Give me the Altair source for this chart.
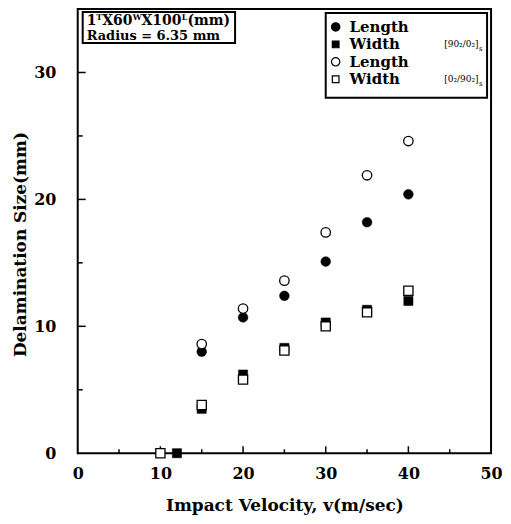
import altair as alt
import pandas as pd

# ---- data ----
v_len_90 = [15, 20, 25, 30, 35, 40]
len_90 = [8.0, 10.7, 12.4, 15.1, 18.2, 20.4]
v_wid_90 = [12, 15, 20, 25, 30, 35, 40]
wid_90 = [0.0, 3.5, 6.2, 8.3, 10.3, 11.3, 12.0]
v_len_0 = [15, 20, 25, 30, 35, 40]
len_0 = [8.6, 11.4, 13.6, 17.4, 21.9, 24.6]
v_wid_0 = [10, 15, 20, 25, 30, 35, 40]
wid_0 = [0.0, 3.8, 5.8, 8.1, 10.0, 11.1, 12.8]

x_ticks_major = [10, 20, 30, 40]
x_ticks_minor = [5, 15, 25, 35, 45]
y_ticks_major = [10, 20, 30]
y_ticks_minor = [5, 15, 25]
x_labels = [0, 10, 20, 30, 40, 50]
y_labels = [0, 10, 20, 30]

FONT = "DejaVu Serif"
W, H = 415, 446

xs = alt.Scale(domain=[0, 50], nice=False, zero=False)
ys = alt.Scale(domain=[0, 35], nice=False, zero=False)

XAX = alt.Axis(values=x_labels, ticks=False, domain=False, grid=False,
               labelPadding=12, titlePadding=16, labelFlush=False)
YAX = alt.Axis(values=y_labels, ticks=False, domain=False, grid=False,
               labelPadding=22, titlePadding=4, titleY=236)
XT = "Impact Velocity, v(m/sec)"
YT = "Delamination Size(mm)"


def X(field="v"):
    return alt.X(f"{field}:Q", scale=xs, axis=XAX, title=XT)


def Y(field="d"):
    return alt.Y(f"{field}:Q", scale=ys, axis=YAX, title=YT)


def df(xv, yv):
    return pd.DataFrame({"v": xv, "d": yv})


def xtick(vals, length):
    return alt.Chart(pd.DataFrame({"v": vals})).mark_rule(color="black", strokeWidth=1.5).encode(
        x=X(), y=alt.value(H), y2=alt.value(H - length))


def ytick(vals, length):
    return alt.Chart(pd.DataFrame({"d": vals})).mark_rule(color="black", strokeWidth=1.5).encode(
        y=Y(), x=alt.value(0), x2=alt.value(length))


def pts(xv, yv, shape, filled, size):
    mk = alt.Chart(df(xv, yv)).mark_point(
        shape=shape, filled=True, size=size,
        fill="black" if filled else "white",
        stroke="black", strokeWidth=1.3 if not filled else 0.5, opacity=1)
    return mk.encode(x=X(), y=Y())


series = [
    pts(v_len_90, len_90, "circle", True, 95),
    pts(v_len_0, len_0, "circle", False, 90),
    pts(v_wid_90, wid_90, "square", True, 85),
    pts(v_wid_0, wid_0, "square", False, 85),
]

one = pd.DataFrame({"a": [0]})


def box(x1, x2, y1, y2):
    return alt.Chart(one).mark_rect(fill="white", stroke="black", strokeWidth=2).encode(
        x=alt.value(x1), x2=alt.value(x2), y=alt.value(y1), y2=alt.value(y2))


def txt(s, x, y, size, weight="bold", align="left", baseline="middle"):
    return alt.Chart(one).mark_text(text=s, font=FONT, fontSize=size, fontWeight=weight,
                                    align=align, baseline=baseline, color="black").encode(
        x=alt.value(x), y=alt.value(y))


def legpt(shape, filled, x, y, size):
    return alt.Chart(one).mark_point(shape=shape, filled=True, size=size,
                                     fill="black" if filled else "white",
                                     stroke="black", strokeWidth=1.2, opacity=1).encode(
        x=alt.value(x), y=alt.value(y))


# dimensions label "1^T X 60^W X 100^L (mm)" built from pieces
L1 = 16  # baseline of line 1
annot = [
    box(5, 158, 3, 34),
    txt("1", 9, L1, 14, baseline="alphabetic"),
    txt("T", 18.7, L1 - 5, 8, baseline="alphabetic"),
    txt("X60", 24.6, L1, 14, baseline="alphabetic"),
    txt("W", 55.3, L1 - 5, 8, baseline="alphabetic"),
    txt("X100", 64.1, L1, 14, baseline="alphabetic"),
    txt("L", 104.5, L1 - 5, 8, baseline="alphabetic"),
    txt("(mm)", 110.2, L1, 14, baseline="alphabetic"),
    txt("Radius = 6.35 mm", 9, 27, 13),
]

R = [18, 35.5, 53, 70.5]
legend = [
    box(249, 411, 4, 89),
    legpt("circle", True, 259, R[0], 70),
    legpt("square", True, 259, R[1], 45),
    legpt("circle", False, 259, R[2], 70),
    legpt("square", False, 259, R[3], 45),
    txt("Length", 273, R[0], 15),
    txt("Width", 273, R[1], 15),
    txt("Length", 273, R[2], 15),
    txt("Width", 273, R[3], 15),
    txt("[90₂/0₂]", 368, R[1], 9, weight="normal"),
    txt("s", 403, R[1] + 5, 7, weight="normal"),
    txt("[0₂/90₂]", 368, R[3], 9, weight="normal"),
    txt("s", 403, R[3] + 5, 7, weight="normal"),
]

chart = alt.layer(
    xtick(x_ticks_major, 7), xtick(x_ticks_minor, 4),
    ytick(y_ticks_major, 8), ytick(y_ticks_minor, 5),
    *series,
    *annot,
    *legend,
).properties(
    width=W, height=H,
    autosize=alt.AutoSizeParams(type="none"),
    padding={"left": 70, "top": 0, "right": 12, "bottom": 66},
).configure_view(
    stroke="black", strokeWidth=2
).configure_axis(
    labelFont=FONT, labelFontSize=16, labelFontWeight="bold", labelColor="black",
    titleFont=FONT, titleFontSize=17, titleFontWeight="bold", titleColor="black",
)

chart.save("out.html", embed_options={"renderer": "svg", "actions": False})
